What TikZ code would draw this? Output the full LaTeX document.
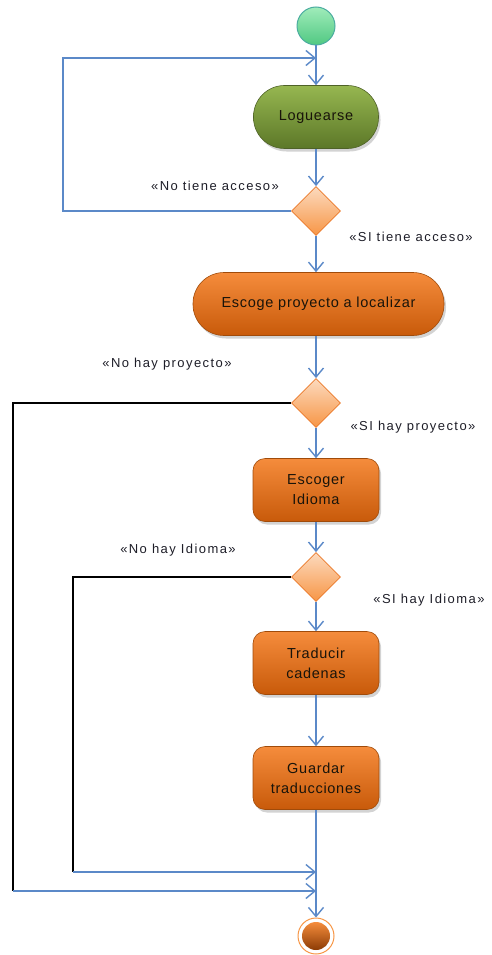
\documentclass[tikz,border=0pt]{standalone}
\usepackage{fontspec}
\setmainfont{Liberation Sans}
\newfontfamily\boxfont[LetterSpace=5]{Liberation Sans}
\newfontfamily\labfont[LetterSpace=11]{Liberation Sans}
\usetikzlibrary{arrows.meta,shapes.geometric,shadows}
\definecolor{flow}{RGB}{91,137,200}
\definecolor{grtop}{RGB}{160,236,186}
\definecolor{grbot}{RGB}{80,200,130}
\definecolor{grline}{RGB}{75,172,160}
\definecolor{oltop}{RGB}{150,182,80}
\definecolor{olbot}{RGB}{92,120,40}
\definecolor{olline}{RGB}{79,98,40}
\definecolor{ortop}{RGB}{245,140,60}
\definecolor{orbot}{RGB}{200,90,10}
\definecolor{orline}{RGB}{160,75,10}
\definecolor{findark}{RGB}{140,60,5}
\definecolor{dmtop}{RGB}{252,218,190}
\definecolor{dmbot}{RGB}{247,150,70}
\definecolor{dmline}{RGB}{235,120,40}
\definecolor{labtext}{RGB}{30,30,40}
\definecolor{boxtext}{RGB}{25,20,10}
\tikzset{
  flowline/.style={draw=flow, line width=1.4pt},
  blackline/.style={draw=black, line width=1.4pt},
  arr/.style={-{Straight Barb[length=9pt,width=15pt,line width=1.4pt]}},
  actbox/.style={rectangle, rounded corners=12pt, minimum width=126pt, minimum height=63pt,
    inner sep=0pt, align=center, draw=orline, line width=0.6pt, shading=axis,
    top color=ortop, bottom color=orbot, text=boxtext,
    font=\boxfont\fontsize{14.5}{20}\selectfont,
    drop shadow={opacity=0.35, shadow xshift=2pt, shadow yshift=-3pt}},
  pill/.style={actbox, rounded corners=31pt},
  decision/.style={diamond, aspect=1, minimum width=49pt, minimum height=49pt, inner sep=0pt,
    draw=dmline, line width=0.8pt, shading=axis, top color=dmtop, bottom color=dmbot},
  guard/.style={font=\labfont\fontsize{13}{15}\selectfont, text=labtext, inner sep=0pt},
}
\begin{document}
\begin{tikzpicture}[x=1pt,y=-1pt]
\useasboundingbox (0,0) rectangle (492,955);
% nodes
\node[circle, minimum size=38pt, inner sep=0pt, draw=grline, line width=1pt, shading=axis,
  top color=grtop, bottom color=grbot] (init) at (316,26) {};
\node[pill, minimum width=125pt, draw=olline, top color=oltop, bottom color=olbot] (login) at (316,117) {Loguearse};
\node[decision] (d1) at (316,211) {};
\node[pill, minimum width=251pt] (proj) at (318.5,304) {Escoge proyecto a localizar};
\node[decision] (d2) at (316,403) {};
\node[actbox] (lang) at (316,490) {Escoger\\Idioma};
\node[decision] (d3) at (316,577) {};
\node[actbox] (trad) at (316,663) {Traducir\\cadenas};
\node[actbox] (save) at (316,778) {Guardar\\traducciones};
\node[circle, minimum size=36pt, inner sep=0pt, draw=dmbot, line width=1pt, fill=white] (fin) at (316,936) {};
\node[circle, minimum size=28pt, inner sep=0pt, shading=axis, top color=ortop, bottom color=findark] (finin) at (fin.center) {};
% coordinates
\coordinate (j0) at (316,58);
\coordinate (c1a) at (63,211);
\coordinate (c1b) at (63,58);
\coordinate (c2a) at (13,403);
\coordinate (c2b) at (13,891);
\coordinate (m2) at (316,891);
\coordinate (c3a) at (73,577);
\coordinate (c3b) at (73,872);
\coordinate (m1) at (316,872);
% connectors
\draw[flowline, arr] (init.south) -- (login.north);
\draw[flowline, arr] (login.south) -- (d1.north);
\draw[flowline, arr] (d1.west) -- (c1a) -- (c1b) -- (j0);
\draw[flowline, arr] (d1.south) -- (proj.north -| d1.south);
\draw[flowline, arr] (proj.south -| d2.north) -- (d2.north);
\draw[blackline] (d2.west) -- (c2a) -- (c2b);
\draw[flowline, arr] (c2b) -- (m2);
\draw[flowline, arr] (d2.south) -- (lang.north);
\draw[flowline, arr] (lang.south) -- (d3.north);
\draw[blackline] (d3.west) -- (c3a) -- (c3b);
\draw[flowline, arr] (c3b) -- (m1);
\draw[flowline, arr] (d3.south) -- (trad.north);
\draw[flowline, arr] (trad.south) -- (save.north);
\draw[flowline, arr] (save.south) -- (fin.north);
% guards
\node[guard] (g1) at (215,186) {«No tiene acceso»};
\node[guard] (g2) at (411,237) {«SI tiene acceso»};
\node[guard] (g3) at (167,364) {«No hay proyecto»};
\node[guard] (g4) at (413,427) {«SI hay proyecto»};
\node[guard] (g5) at (178,550) {«No hay Idioma»};
\node[guard] (g6) at (429,600) {«SI hay Idioma»};
\end{tikzpicture}
\end{document}
